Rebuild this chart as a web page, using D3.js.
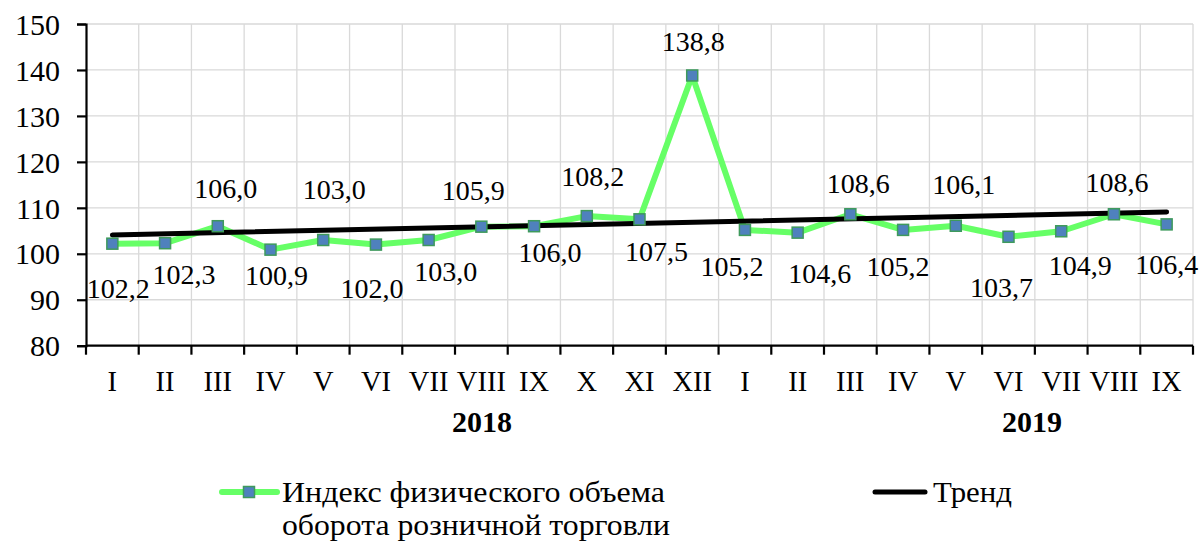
<!DOCTYPE html>
<html>
<head>
<meta charset="utf-8">
<script src="https://cdn.jsdelivr.net/npm/d3@7"></script>
<style>
  html, body { margin: 0; padding: 0; background: #fff; }
  svg { display: block; }
</style>
</head>
<body>
<svg id="chart" width="1200" height="545" font-family="Liberation Serif, DejaVu Serif, serif"></svg>
<script>
// ---- data ----
const months = ["I","II","III","IV","V","VI","VII","VIII","IX","X","XI","XII",
                "I","II","III","IV","V","VI","VII","VIII","IX"];
const years = ["2018", "2019"];
const values = [102.2,102.3,106.0,100.9,103.0,102.0,103.0,105.9,106.0,108.2,107.5,138.8,
                105.2,104.6,108.6,105.2,106.1,103.7,104.9,108.6,106.4];
const trendEnds = [104.1, 109.1];
const yTicks = [80, 90, 100, 110, 120, 130, 140, 150];
const seriesName = ["Индекс физического объема", "оборота розничной торговли"];
const trendName = "Тренд";

// ---- label layout (offset of label centre from point, px) ----
const labelOffsets = [[6,45],[19,31],[8,-38],[6,26],[11,-50],[-4,44],[17,32],[-8,-36],[16,26],
  [6,-40],[17,32],[1,-34],[-13,37],[22,41],[8,-31],[-5,37],[8,-41],[-7,51],[19,34],[3,-32],[0,40]];
const yearLabelX = [482, 1032];
const FONT = '"Liberation Serif", "DejaVu Serif", serif';

const svg = d3.select("#chart");
const L = 86, R = 1193, T = 24, B = 345.7;

const x = d3.scaleBand().domain(d3.range(months.length)).range([L, R]).padding(0);
const cx = i => x(i) + x.bandwidth() / 2;
const y = d3.scaleLinear().domain([80, 150]).range([B, T]);

// gridlines
const grid = svg.append("g");
grid.selectAll("line.h").data(yTicks.filter(v => v > 80)).enter().append("line")
  .attr("x1", L).attr("x2", R).attr("y1", d => y(d)).attr("y2", d => y(d))
  .attr("stroke", "#d9d9d9").attr("stroke-width", 1.3);
grid.selectAll("line.v").data(d3.range(1, months.length + 1)).enter().append("line")
  .attr("x1", d => d === months.length ? R : x(d)).attr("x2", d => d === months.length ? R : x(d))
  .attr("y1", T).attr("y2", B)
  .attr("stroke", "#d9d9d9").attr("stroke-width", 1.3);

// y axis
const yAxis = d3.axisLeft(y).tickValues(yTicks).tickSize(9).tickPadding(17).tickFormat(d3.format("d"));
const gy = svg.append("g").attr("transform", `translate(${L},0)`).call(yAxis);
gy.attr("font-family", null).attr("font-size", null);
gy.select(".domain").attr("stroke", "#000").attr("stroke-width", 2.2);
gy.selectAll(".tick line").attr("stroke", "#000").attr("stroke-width", 2.2);
gy.selectAll(".tick text").style("font-size", "30px").attr("dy", "0.34em").attr("fill", "#000");

// x axis line + ticks at boundaries
const gx = svg.append("g");
gx.append("line").attr("x1", L).attr("x2", R).attr("y1", B).attr("y2", B)
  .attr("stroke", "#000").attr("stroke-width", 2.2);
gx.selectAll("line.t").data(d3.range(0, months.length + 1)).enter().append("line")
  .attr("x1", d => d === months.length ? R : x(d)).attr("x2", d => d === months.length ? R : x(d))
  .attr("y1", B).attr("y2", B + 9).attr("stroke", "#000").attr("stroke-width", 2.2);
gx.selectAll("text.m").data(months).enter().append("text")
  .attr("x", (d, i) => cx(i)).attr("y", 391)
  .attr("text-anchor", "middle").style("font-size", "28.5px").text(d => d);
gx.selectAll("text.y").data(years).enter().append("text")
  .attr("x", (d, i) => yearLabelX[i]).attr("y", 432)
  .attr("text-anchor", "middle").style("font-size", "30px").style("font-weight", "bold").text(d => d);

// series line
const line = d3.line().x((d, i) => cx(i)).y(d => y(d));
svg.append("path").datum(values).attr("d", line)
  .attr("fill", "none").attr("stroke", "#66ff66").attr("stroke-width", 6)
  .attr("stroke-linejoin", "round");

// trend line
svg.append("line")
  .attr("x1", cx(0)).attr("x2", cx(months.length - 1))
  .attr("y1", y(trendEnds[0])).attr("y2", y(trendEnds[1]))
  .attr("stroke", "#000").attr("stroke-width", 5).attr("stroke-linecap", "round");

// markers
const ms = 11;
svg.selectAll("rect.mk").data(values).enter().append("rect")
  .attr("x", (d, i) => cx(i) - ms / 2).attr("y", d => y(d) - ms / 2)
  .attr("width", ms).attr("height", ms)
  .attr("fill", "#4f81bd").attr("stroke", "#3e9a5c").attr("stroke-width", 1.5);

// data labels
const fmt = v => v.toFixed(1).replace(".", ",");
svg.selectAll("text.dl").data(values).enter().append("text")
  .attr("x", (d, i) => cx(i) + labelOffsets[i][0])
  .attr("y", (d, i) => y(d) + labelOffsets[i][1] + 9.5)
  .attr("text-anchor", "middle").style("font-size", "28px").text(d => fmt(d));

// legend
const lg = svg.append("g");
lg.append("line").attr("x1", 222).attr("x2", 277).attr("y1", 492).attr("y2", 492)
  .attr("stroke", "#66ff66").attr("stroke-width", 6).attr("stroke-linecap", "round");
lg.append("rect").attr("x", 249 - ms / 2).attr("y", 492 - ms / 2).attr("width", ms).attr("height", ms)
  .attr("fill", "#4f81bd").attr("stroke", "#3e9a5c").attr("stroke-width", 1.5);
lg.append("text").attr("x", 282).attr("y", 502).style("font-size", "29px")
  .attr("textLength", 383).attr("lengthAdjust", "spacingAndGlyphs").text(seriesName[0]);
lg.append("text").attr("x", 282).attr("y", 535).style("font-size", "29px")
  .attr("textLength", 388).attr("lengthAdjust", "spacingAndGlyphs").text(seriesName[1]);
lg.append("line").attr("x1", 875).attr("x2", 925).attr("y1", 492).attr("y2", 492)
  .attr("stroke", "#000").attr("stroke-width", 5).attr("stroke-linecap", "round");
lg.append("text").attr("x", 933).attr("y", 502).style("font-size", "29px")
  .attr("textLength", 79).attr("lengthAdjust", "spacingAndGlyphs").text(trendName);

svg.selectAll("text").style("font-family", FONT).attr("fill", "#000");
</script>
</body>
</html>
